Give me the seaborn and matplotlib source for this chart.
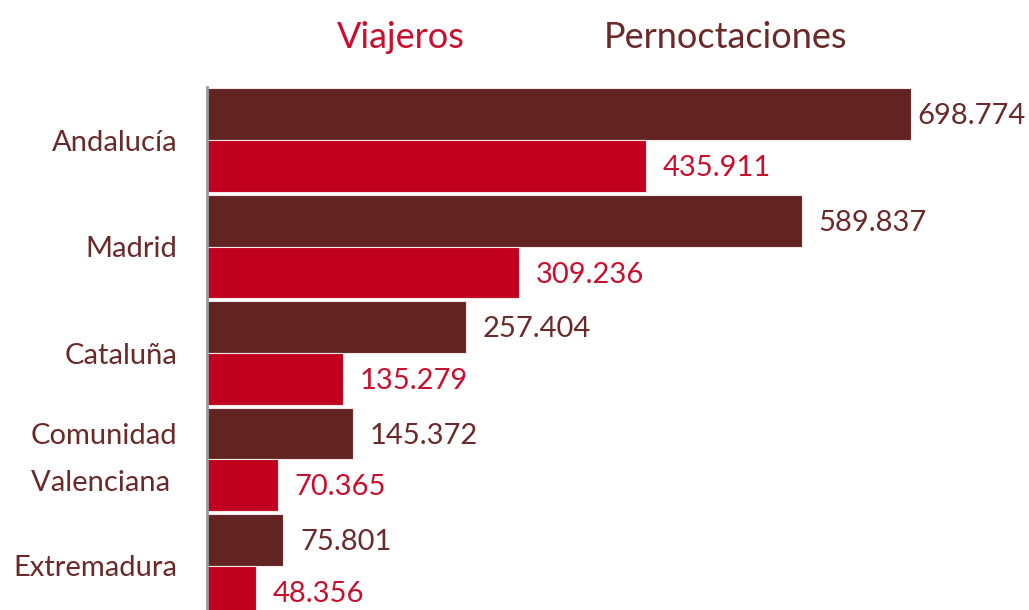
import matplotlib
matplotlib.use("Agg")
import matplotlib.pyplot as plt
import seaborn as sns
import pandas as pd

regiones = ["Andalucía", "Madrid", "Cataluña", "Comunidad\nValenciana ", "Extremadura"]
pernoctaciones = [698774, 589837, 257404, 145372, 75801]
viajeros = [435911, 309236, 135279, 70365, 48356]
series = ["Pernoctaciones", "Viajeros"]

color_oscuro = "#622323"
color_rojo = "#C0001E"
texto_oscuro = "#6A2A2A"
texto_rojo = "#C8102E"

df = pd.DataFrame({
    "region": regiones * 2,
    "serie": [series[0]] * len(regiones) + [series[1]] * len(regiones),
    "valor": pernoctaciones + viajeros,
})

sns.set_theme(style="white")
plt.rcParams["font.family"] = ["Lato", "DejaVu Sans"]

W, H = 1029, 610
fig = plt.figure(figsize=(W / 100, H / 100), dpi=100)
ax = fig.add_axes([0.201, -0.0148, 0.784, 0.8722])

sns.barplot(
    data=df, y="region", x="valor", hue="serie", order=regiones,
    hue_order=series, palette=[color_oscuro, color_rojo], orient="h",
    width=0.975, saturation=1, edgecolor="#F2E6E6", linewidth=0.8,
    ax=ax, legend=False,
)

ax.set_xlim(0, 800000)
ax.set_ylim(len(regiones) - 0.5, -0.5)
ax.set_xlabel("")
ax.set_ylabel("")
ax.set_xticks([])

for s in ["top", "right", "bottom"]:
    ax.spines[s].set_visible(False)
ax.spines["left"].set_color("#9A9A9A")
ax.spines["left"].set_linewidth(2)

ax.tick_params(axis="y", length=0, pad=21)
for lbl in ax.get_yticklabels():
    lbl.set_fontsize(21)
    lbl.set_color(texto_oscuro)
    if "\n" in lbl.get_text():
        lbl.set_linespacing(2.0)
        lbl.set_verticalalignment("center")

def fmt(v):
    return f"{v:,}".replace(",", ".")

etiquetas = []
for cont, col in zip(ax.containers, [texto_oscuro, texto_rojo]):
    for bar in cont:
        w = bar.get_width()
        yc = bar.get_y() + bar.get_height() / 2
        t = ax.annotate(fmt(int(round(w))), xy=(w, yc), xytext=(12, -1.5),
                        textcoords="offset points", ha="left", va="center",
                        fontsize=21, color=col, annotation_clip=False)
        etiquetas.append(t)

# keep value labels inside the canvas
fig.canvas.draw()
r = fig.canvas.get_renderer()
for t in etiquetas:
    bb = t.get_window_extent(r)
    if bb.x1 > W - 3:
        dx = (bb.x1 - (W - 3)) * 72 / fig.dpi
        x0, y0 = t.xyann
        t.xyann = (x0 - dx, y0)

fig.text(337 / W, 1 - 37 / H, "Viajeros", color=texto_rojo,
         fontsize=26, ha="left", va="center")
fig.text(604 / W, 1 - 37 / H, "Pernoctaciones", color=texto_oscuro,
         fontsize=26, ha="left", va="center")

fig.savefig("out.png", dpi=100)
